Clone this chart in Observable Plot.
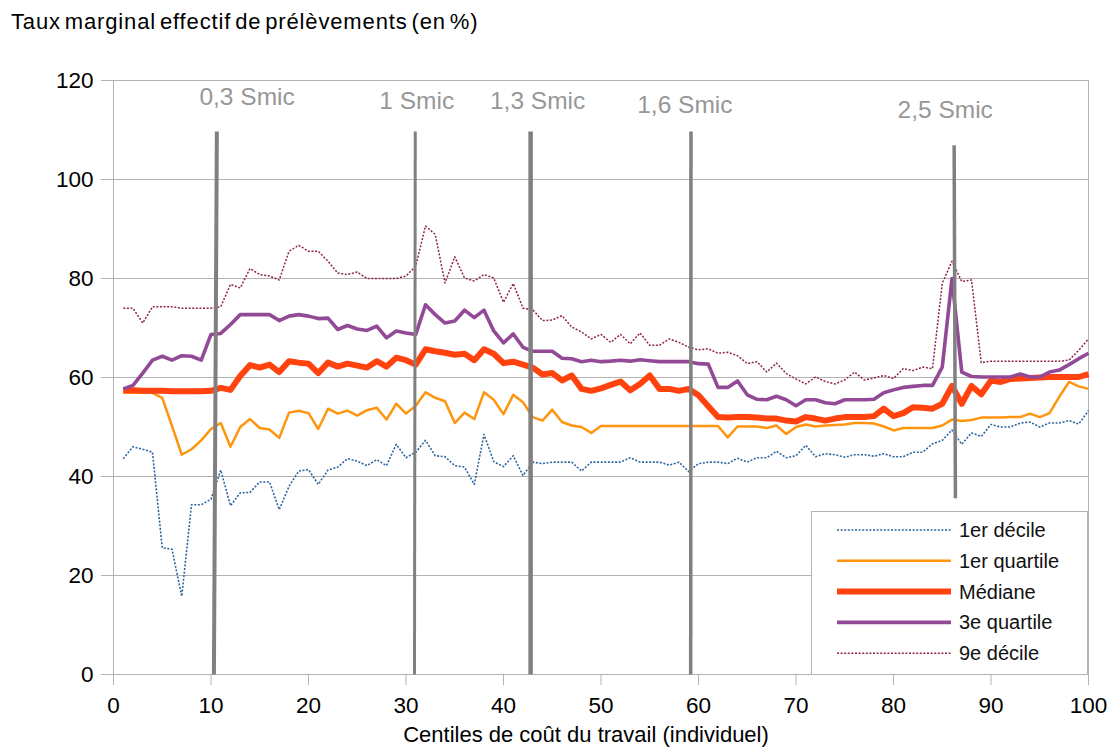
<!DOCTYPE html>
<html><head><meta charset="utf-8">
<script src="https://cdn.jsdelivr.net/npm/d3@7"></script>
<script src="https://cdn.jsdelivr.net/npm/@observablehq/plot@0.6"></script>
<style>
body{margin:0;background:#fff;font-family:"Liberation Sans",Arial,sans-serif;}
#wrap{position:relative;width:1113px;height:748px;overflow:hidden;}
#title{position:absolute;left:11px;top:9px;font-size:22px;letter-spacing:0.85px;word-spacing:-3px;color:#000;white-space:nowrap;}
#chart{position:absolute;left:0;top:0;}
#legend{position:absolute;left:811px;top:511px;}
</style></head><body>
<div id="wrap"><div id="chart"></div><div id="title">Taux marginal effectif de prélèvements (en %)</div><div id="legend"></div></div>
<script>
const centiles = d3.range(1, 101);
const decile1 = [43.6,46,45.5,44.9,25.6,25.3,15.8,34.3,34.3,35.4,
 41.3,34.1,36.7,36.8,38.9,38.9,33.3,38,41.1,41.4,
 38.4,41.3,41.9,43.6,43.1,42.2,43.4,42.2,46.5,43.8,
 44.9,47.3,44.2,44,42.2,41.9,38.4,48.5,43,42,
 44.2,40.2,42.9,42.6,42.9,42.9,42.9,41.1,42.9,42.9,
 42.9,42.9,43.8,42.9,42.9,42.9,42.3,42.9,41,42.6,
 42.9,42.9,42.6,43.7,42.9,43.8,43.8,45.1,43.8,44.2,
 46.3,44,44.6,44.4,43.9,44.4,44.4,44.1,44.6,44,
 44,44.9,44.9,46.6,47.3,49.4,46.5,48.8,48.1,50.5,
 50,50,50.8,51,50,50.8,50.8,51.3,50.6,53.3];
const quartile1 = [56.9,56.9,56.9,56.9,55.9,50.2,44.4,45.5,47.3,49.6,
 50.8,46,50,51.6,49.8,49.5,47.8,52.9,53.3,52.8,
 49.6,53.7,52.7,53.3,52.3,53.4,53.9,51.5,54.7,52.7,
 54.3,57,55.9,55.2,50.8,52.9,51.6,57,55.5,52.6,
 56.5,55,52,51.3,53.5,51,50.3,50,48.8,50.2,
 50.2,50.2,50.2,50.2,50.2,50.2,50.2,50.2,50.2,50.2,
 50.2,50.2,47.9,50.1,50.1,50.1,49.8,50.3,48.6,50,
 50.5,50.1,50.3,50.4,50.5,50.8,50.8,50.7,50.1,49.3,
 49.8,49.8,49.8,49.8,50.3,51.5,51.2,51.4,51.9,51.9,
 51.9,52,52,52.7,52,52.8,56.1,59.1,58.2,57.7];
const mediane = [57.4,57.4,57.3,57.3,57.3,57.2,57.2,57.2,57.2,57.3,
 57.9,57.5,60.3,62.5,62,62.6,61.1,63.3,63,62.8,
 60.9,63,62.2,62.8,62.4,62,63.3,62.2,64,63.5,
 62.6,65.7,65.3,65,64.6,64.8,63.5,65.7,64.8,62.9,
 63.2,62.6,62,60.6,60.9,59.4,60.4,57.7,57.3,57.8,
 58.5,59.2,57.4,58.7,60.4,57.7,57.7,57.3,57.7,56.4,
 54.2,52,51.9,52,52,51.9,51.7,51.7,51.3,51.1,
 52,51.7,51.3,51.7,52,52,52,52.2,53.7,52.2,
 52.8,54,53.9,53.7,54.7,58.3,54.7,58.3,56.6,59.4,
 59.1,59.7,59.8,59.9,60,60.1,60.1,60.1,60.1,60.7];
const quartile3 = [57.7,58.4,60.9,63.5,64.3,63.5,64.4,64.3,63.5,68.7,
 68.9,70.7,72.7,72.7,72.7,72.7,71.5,72.4,72.7,72.4,
 71.9,72,69.7,70.5,69.8,69.5,70.4,68,69.4,69,
 68.7,74.7,72.7,71,71.4,73.6,72.1,73.6,69.4,67,
 68.8,66.1,65.3,65.3,65.3,63.9,63.8,63.2,63.5,63.2,
 63.3,63.5,63.3,63.6,63.4,63.2,63.2,63.2,63.2,62.8,
 62.7,58,58,59.3,56.5,55.6,55.5,56.2,55.5,54.3,
 55.5,55.5,54.9,54.7,55.5,55.5,55.5,55.6,56.9,57.5,
 58,58.2,58.4,58.4,62.1,80,61.1,60.2,60.1,60.1,
 60.1,60.1,60.7,60.1,60.1,61.1,61.5,62.6,63.8,64.9];
const decile9 = [74,74,71,74.3,74.3,74.3,74,74,74,74,
 74.3,78.8,78.1,82,80.8,80.5,79.7,85.5,86.7,85.5,
 85.5,83.5,81.1,80.8,81.3,80,80,80,80,80.5,
 82.5,90.6,88.9,79.1,84.4,80.1,79.5,80.8,80.1,75.2,
 79,74,73.7,71.5,71.6,72.5,70.2,69.2,67.8,68.7,
 67.1,68.7,66.8,69,66.5,66.5,67.8,67.1,66.1,65.6,
 65.8,64.9,65.1,64.4,62.8,63.2,61.1,62.9,60.8,59.7,
 58.7,60.1,59.2,58.7,59.5,61.1,59.5,59.9,60.4,59.8,
 61.8,61.4,62.1,61.8,79,83.5,79.4,79.7,63,63.3,
 63.3,63.3,63.3,63.3,63.3,63.3,63.3,63.5,65.5,67.8];

const seriesNames = ["1er décile", "1er quartile", "Médiane", "3e quartile", "9e décile"];
const seriesValues = [decile1, quartile1, mediane, quartile3, decile9];

const smicLabels = ["0,3 Smic", "1 Smic", "1,3 Smic", "1,6 Smic", "2,5 Smic"];
const smicXTop = [10.6, 30.95, 42.78, 59.23, 86.22];
const smicXBottom = [10.3, 30.87, 42.78, 59.2, 86.35];
const smicYTop = [109.7, 109.7, 109.7, 109.7, 106.9];
const smicYBottom = [0, 0, 0, 0, 35.6];
const smicLabelX = [13.7, 31.1, 43.5, 58.6, 85.3];
const smicLabelY = [116.6, 115.8, 115.8, 115.0, 114.1];

const yTicks = [0, 20, 40, 60, 80, 100, 120];
const xTicks = [0, 10, 20, 30, 40, 50, 60, 70, 80, 90, 100];
const xTitle = "Centiles de coût du travail (individuel)";

// styles (kept separate from data)
const styles = {
  "1er décile": {stroke: "#2c64a0", strokeWidth: 1.6, strokeDasharray: "2,1.6"},
  "1er quartile": {stroke: "#ff950e", strokeWidth: 2.5},
  "Médiane": {stroke: "#ff420e", strokeWidth: 6},
  "3e quartile": {stroke: "#924a96", strokeWidth: 3.6},
  "9e décile": {stroke: "#8f2449", strokeWidth: 1.5, strokeDasharray: "2,1.6"}
};
const smicWidths = [4, 3, 4.5, 3.5, 3.5];

const rows = [];
seriesNames.forEach((name, i) => seriesValues[i].forEach((v, j) => rows.push({serie: name, c: centiles[j], v})));
const smic = smicLabels.map((label, i) => ({label, x1: smicXBottom[i], x2: smicXTop[i], y1: smicYBottom[i], y2: smicYTop[i], lx: smicLabelX[i], ly: smicLabelY[i], w: smicWidths[i]}));

const font = "'Liberation Sans', Arial, sans-serif";
const chart = Plot.plot({
  width: 1113, height: 748,
  marginTop: 80, marginBottom: 74, marginLeft: 113, marginRight: 25,
  style: {fontFamily: font, background: "transparent", overflow: "visible"},
  x: {domain: [0, 100]},
  y: {domain: [0, 120]},
  marks: [
    Plot.gridY(yTicks, {stroke: "#b3b3b3", strokeOpacity: 1, strokeWidth: 1}),
    Plot.ruleX([0, 100], {stroke: "#b3b3b3", strokeWidth: 1}),
    Plot.ruleY([0], {stroke: "#b3b3b3", strokeWidth: 1}),
    Plot.axisY(yTicks, {tickSize: 12, tickPadding: 8, stroke: "#b3b3b3", fill: "#000", label: null, fontSize: 22.5}),
    Plot.axisX(xTicks, {tickSize: 11, tickPadding: 12, stroke: "#b3b3b3", fill: "#000", label: null, fontSize: 22.5}),
    ...seriesNames.map(name => Plot.line(rows.filter(d => d.serie === name), {
      x: "c", y: "v", strokeLinejoin: "round", strokeLinecap: "butt", ...styles[name]
    })),
    ...smic.map(s => Plot.link([s], {x1: "x1", y1: "y1", x2: "x2", y2: "y2", stroke: "#808080", strokeWidth: s.w})),
    Plot.text(smic, {x: "lx", y: "ly", text: "label", fill: "#979797", fontSize: 24.5, lineAnchor: "middle"}),
    Plot.text([xTitle], {frameAnchor: "bottom", dy: 60, dx: -15, fill: "#000", fontSize: 22, lineAnchor: "middle"})
  ]
});
document.getElementById("chart").appendChild(chart);

// Legend
const lg = d3.select("#legend").append("svg").attr("width", 277).attr("height", 164)
  .style("font-family", font);
lg.append("rect").attr("x", 0.5).attr("y", 0.5).attr("width", 276).attr("height", 163)
  .attr("fill", "#fff").attr("stroke", "#b3b3b3");
seriesNames.forEach((name, i) => {
  const y = 19 + i * 30.8;
  const s = styles[name];
  lg.append("line").attr("x1", 26).attr("x2", 140).attr("y1", y).attr("y2", y)
    .attr("stroke", s.stroke).attr("stroke-width", s.strokeWidth)
    .attr("stroke-dasharray", s.strokeDasharray || null);
  lg.append("text").attr("x", 148).attr("y", y).attr("dy", "0.35em")
    .attr("font-size", 20).attr("fill", "#111").text(name);
});
</script>
</body></html>
